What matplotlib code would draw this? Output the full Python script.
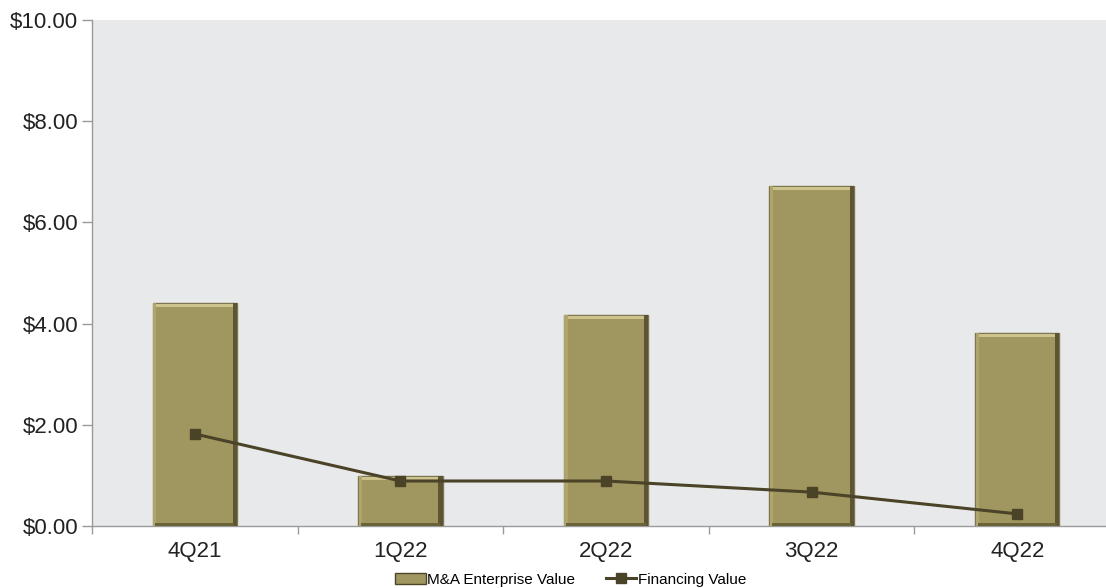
import matplotlib.pyplot as plt
import matplotlib.patches as mpatches
from matplotlib.lines import Line2D
import numpy as np

quarters = ['4Q21', '1Q22', '2Q22', '3Q22', '4Q22']
ma_value = [4.41, 0.99, 4.17, 6.72, 3.81]
financing_value = [1.82, 0.89, 0.89, 0.67, 0.24]

bar_color = '#a09660'
light_color = '#cdc38c'
dark_color = '#4d4629'
line_color = '#4a4328'
grey = '#9a9a9a'

plt.rcParams['font.family'] = ['Liberation Sans', 'DejaVu Sans']

fig = plt.figure(figsize=(11.06, 5.88), dpi=100)
ax = fig.add_axes([0.0832, 0.1054, 0.9295, 0.8605])
ax.set_facecolor('#e8e9eb')

x = np.arange(len(quarters))
w = 0.41

# main bars with a simple bevel look
ax.bar(x, ma_value, width=w, color=bar_color, edgecolor='#7d7650', linewidth=1.0, zorder=2)
ax.bar(x, [0.06] * len(x), bottom=np.array(ma_value) - 0.08, width=w * 0.94,
       color=light_color, linewidth=0, zorder=3)
ax.bar(x + w * 0.475, ma_value, width=w * 0.05, color='#5c5432', linewidth=0, zorder=3)
ax.bar(x - w * 0.475, ma_value, width=w * 0.04, color='#aea46c', linewidth=0, zorder=3)
ax.bar(x, [0.05] * len(x), bottom=0.0, width=w * 0.94, color='#6b6338', linewidth=0, zorder=3)

ax.plot(x, financing_value, color=line_color, linewidth=2.2, marker='s', markersize=7,
        zorder=4)

ax.set_xlim(-0.5, 4.5)
ax.set_ylim(0, 10)
ax.set_yticks(np.arange(0, 11, 2))
ax.set_yticklabels(['${:.2f}'.format(v) for v in np.arange(0, 11, 2)])
ax.set_xticks(x)
ax.set_xticklabels(quarters)
ax.set_xticks(np.arange(-0.5, 5, 1), minor=True)
ax.tick_params(axis='x', which='major', length=0, pad=11, labelsize=16, colors='#222222')
ax.tick_params(axis='x', which='minor', length=6, color=grey, width=1)
ax.tick_params(axis='y', length=7, color=grey, width=1, labelsize=16, labelcolor='#222222', pad=3)

for s in ['top', 'right']:
    ax.spines[s].set_visible(False)
for s in ['left', 'bottom']:
    ax.spines[s].set_color(grey)
    ax.spines[s].set_linewidth(1)

handles = [mpatches.Patch(facecolor=bar_color, edgecolor=dark_color, label='M&A Enterprise Value'),
           Line2D([0], [0], color=line_color, linewidth=2.2, marker='s', markersize=7,
                  label='Financing Value')]
fig.legend(handles=handles, loc='center', bbox_to_anchor=(0.516, 0.014), ncol=2,
           frameon=False, fontsize=11, handlelength=2.0, columnspacing=2.0,
           handletextpad=0.1, borderpad=0.1)

fig.savefig('out.png', dpi=100)
